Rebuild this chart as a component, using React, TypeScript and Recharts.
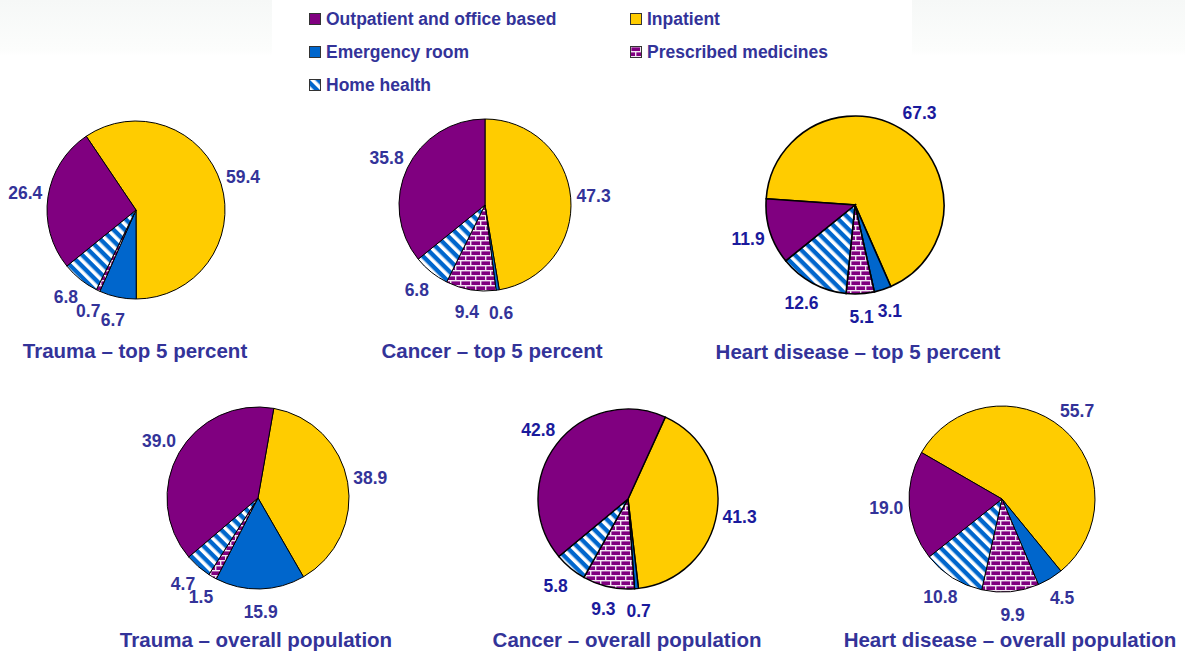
import { PieChart, Pie, Cell } from "recharts";

// slice order inside every pie (clockwise from the start angle)
const sliceKeys = ["Inpatient", "Emergency room", "Prescribed medicines", "Home health", "Outpatient and office based"];

const traumaTop5 = [59.4, 6.7, 0.7, 6.8, 26.4];
const cancerTop5 = [47.3, 0.6, 9.4, 6.8, 35.8];
const heartTop5 = [67.3, 3.1, 5.1, 12.6, 11.9];
const traumaOverall = [38.9, 15.9, 1.5, 4.7, 39.0];
const cancerOverall = [41.3, 0.7, 9.3, 5.8, 42.8];
const heartOverall = [55.7, 4.5, 9.9, 10.8, 19.0];

const titles = [
  "Trauma – top 5 percent",
  "Cancer – top 5 percent",
  "Heart disease – top 5 percent",
  "Trauma – overall population",
  "Cancer – overall population",
  "Heart disease – overall population",
];

// legend order as in the original (two columns)
const legendItems = [
  ["Outpatient and office based", "Inpatient"],
  ["Emergency room", "Prescribed medicines"],
  ["Home health"],
];

const FILLS: Record<string, string> = {
  Inpatient: "#FFCC00",
  "Emergency room": "#0066CC",
  "Prescribed medicines": "url(#brick)",
  "Home health": "url(#stripes)",
  "Outpatient and office based": "#800080",
};

const TEXT = "#333399";
const DARK = "#1a1a9c";
const FONT = "'Liberation Sans', Arial, Helvetica, sans-serif";
const RAD = Math.PI / 180;

// layout of the six pies; angle = where the first slice starts, clockwise from 12 o'clock
const pies = [
  { values: traumaTop5, cx: 136, cy: 210, r: 89, angle: -34, color: TEXT, sw: 1, tx: 135, ty: 351 },
  { values: cancerTop5, cx: 485, cy: 205, r: 86, angle: 0, color: TEXT, sw: 1, tx: 492, ty: 351 },
  { values: heartTop5, cx: 855, cy: 205, r: 89, angle: -86, color: DARK, sw: 1.6, tx: 858, ty: 352 },
  { values: traumaOverall, cx: 258, cy: 498, r: 91, angle: 10, color: TEXT, sw: 1, tx: 256, ty: 640 },
  { values: cancerOverall, cx: 628, cy: 499, r: 90, angle: 24.5, color: DARK, sw: 1.4, tx: 627, ty: 640 },
  { values: heartOverall, cx: 1002, cy: 499, r: 93, angle: -60, color: TEXT, sw: 1, tx: 1010, ty: 640 },
];

function makeLabel(color: string) {
  return (p: any) => {
    const r = p.outerRadius + 23;
    const x = p.cx + r * Math.cos(-p.midAngle * RAD);
    const y = p.cy + r * Math.sin(-p.midAngle * RAD);
    return (
      <text
        x={x}
        y={y}
        fill={color}
        textAnchor="middle"
        dominantBaseline="central"
        fontSize={17.5}
        fontWeight={700}
        fontFamily={FONT}
      >
        {Number(p.value).toFixed(1)}
      </text>
    );
  };
}

function Marker({ name }: { name: string }) {
  return (
    <svg width={12} height={12} style={{ display: "block" }}>
      <rect x={0.5} y={0.5} width={11} height={11} fill={FILLS[name]} stroke="#333" strokeWidth={1} />
    </svg>
  );
}

export default function App() {
  return (
    <div
      style={{
        position: "absolute",
        left: 0,
        top: 0,
        width: 1185,
        height: 652,
        overflow: "hidden",
        fontFamily: FONT,
        background: "linear-gradient(to bottom, #f6f8f7 0px, #fcfdfc 50px, #ffffff 56px)",
      }}
    >
      {/* legend box */}
      <div style={{ position: "absolute", left: 272, top: 0, width: 640, height: 100, background: "#fff" }}>
        {legendItems.map((row, ri) =>
          row.map((name, ci) => (
            <div
              key={name}
              style={{
                position: "absolute",
                left: 37 + ci * 321,
                top: 8 + ri * 33,
                display: "flex",
                alignItems: "center",
                gap: 5,
                color: TEXT,
                fontWeight: 700,
                fontSize: 17.5,
                whiteSpace: "nowrap",
                lineHeight: "22px",
              }}
            >
              <Marker name={name} />
              <span>{name}</span>
            </div>
          ))
        )}
      </div>

      <div style={{ position: "absolute", left: 0, top: 0 }}>
        <PieChart width={1185} height={652} margin={{ top: 0, right: 0, bottom: 0, left: 0 }}>
          <defs>
            <pattern id="stripes" width={8} height={8} patternUnits="userSpaceOnUse" patternTransform="rotate(-45)">
              <rect width={8} height={8} fill="#0066CC" />
              <rect x={0} y={0} width={3} height={8} fill="#ffffff" />
              <rect x={3} y={0} width={1} height={8} fill="#9cc4ec" />
            </pattern>
            <pattern id="brick" width={10} height={10} patternUnits="userSpaceOnUse">
              <rect width={10} height={10} fill="#800080" />
              <rect x={0} y={0} width={10} height={1.4} fill="#f2e6f2" />
              <rect x={0} y={5} width={10} height={1.4} fill="#f2e6f2" />
              <rect x={0} y={0} width={1.4} height={5} fill="#f2e6f2" />
              <rect x={5} y={5} width={1.4} height={5} fill="#f2e6f2" />
            </pattern>
          </defs>
          {pies.map((pc, i) => {
            const data = sliceKeys.map((name, k) => ({ name, value: pc.values[k] }));
            const start = 90 - pc.angle;
            return (
              <Pie
                key={i}
                data={data}
                dataKey="value"
                nameKey="name"
                cx={pc.cx}
                cy={pc.cy}
                outerRadius={pc.r}
                innerRadius={0}
                startAngle={start}
                endAngle={start - 360}
                stroke="#000"
                strokeWidth={pc.sw}
                label={makeLabel(pc.color)}
                labelLine={false}
                isAnimationActive={false}
              >
                {data.map((d) => (
                  <Cell key={d.name} fill={FILLS[d.name]} stroke="#000" strokeWidth={pc.sw} />
                ))}
              </Pie>
            );
          })}
        </PieChart>
      </div>

      {pies.map((pc, i) => (
        <div
          key={titles[i]}
          style={{
            position: "absolute",
            left: pc.tx,
            top: pc.ty - 13,
            transform: "translateX(-50%)",
            whiteSpace: "nowrap",
            color: TEXT,
            fontWeight: 700,
            fontSize: 20.5,
            lineHeight: "26px",
          }}
        >
          {titles[i]}
        </div>
      ))}
    </div>
  );
}
